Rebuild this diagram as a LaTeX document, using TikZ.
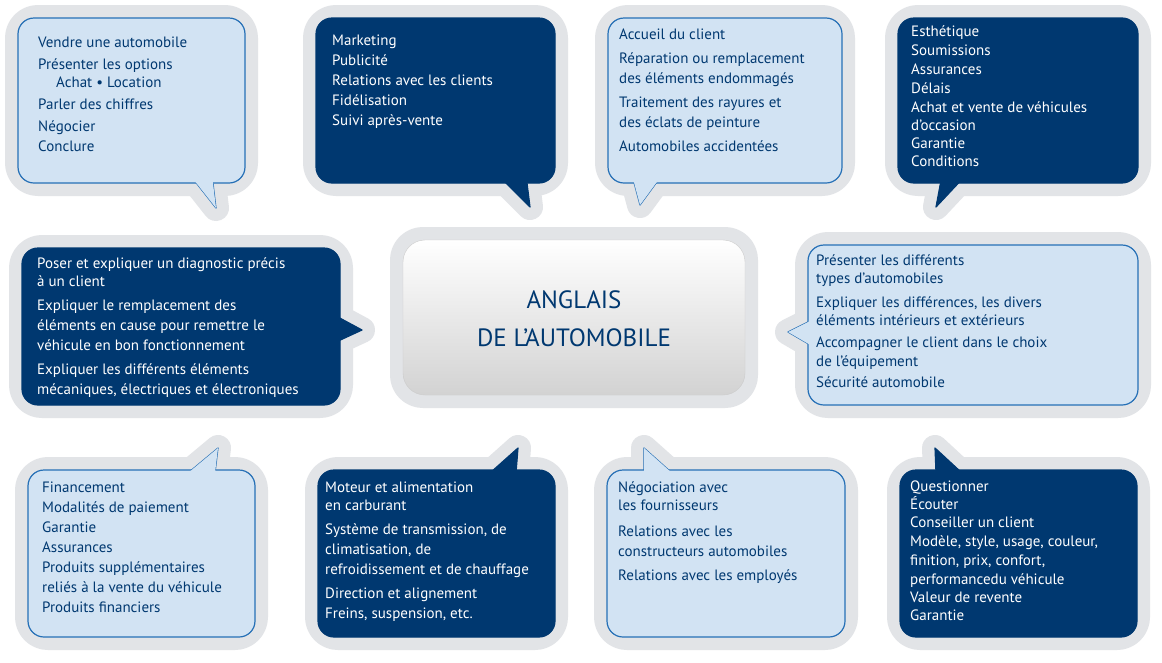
\documentclass[tikz,border=0pt]{standalone}
\usepackage{fontspec}
\setmainfont{PT Sans}
\definecolor{autonavy}{RGB}{0,56,112}
\definecolor{autolight}{RGB}{210,227,243}
\definecolor{autoedge}{RGB}{38,112,182}
\definecolor{autohalo}{RGB}{226,228,231}
\tikzset{
  halo/.style={draw=autohalo,fill=autohalo,line width=26pt,line join=round},
  lightbubble/.style={fill=autolight,draw=autoedge,line width=1.2pt},
  darkbubble/.style={fill=autonavy,draw=autonavy,line width=1.2pt},
  lighttext/.style={anchor=north west,inner sep=0pt,align=left,text=autonavy,font=\fontsize{15}{20}\selectfont},
  darktext/.style={lighttext,text=white}
}
% bubble: corner, corner, tail base, tip, tail base, style
\newcommand{\autobubble}[6]{%
  \draw[halo,rounded corners=20pt] #1 rectangle #2;
  \draw[halo] #3 -- #4 -- #5 -- cycle;
  \draw[#6,line join=round] #3 -- #4 -- #5;
  \draw[#6,rounded corners=16pt] #1 rectangle #2;
  \fill[#6,draw=none] #3 -- #4 -- #5 -- cycle;
}
\begin{document}
\begin{tikzpicture}[x=1pt,y=-1pt]
  \useasboundingbox[fill=white] (0,0) rectangle (1162,662);
  % top row
  \autobubble{(18,18)}{(245,183)}{(190,175)}{(216,208)}{(212,175)}{lightbubble}
  \autobubble{(316,18)}{(555,183)}{(498,175)}{(530,207)}{(526,175)}{darkbubble}
  \autobubble{(608,18)}{(842,183)}{(632,175)}{(640,205)}{(662,175)}{lightbubble}
  \autobubble{(898,18)}{(1138,183)}{(942,175)}{(936,207)}{(966,175)}{darkbubble}
  % middle row
  \autobubble{(22,248)}{(340,405)}{(336,316)}{(362,330)}{(336,342)}{darkbubble}
  \draw[halo,rounded corners=20pt] (403,240) rectangle (745,395);
  \shade[top color=white,bottom color=gray!35,draw=gray!40,rounded corners=22pt] (403,240) rectangle (745,395);
  \autobubble{(808,245)}{(1138,405)}{(812,320)}{(788,332)}{(812,346)}{lightbubble}
  % bottom row
  \autobubble{(28,470)}{(255,637)}{(188,473)}{(218,448)}{(215,473)}{lightbubble}
  \autobubble{(318,470)}{(555,637)}{(490,473)}{(518,448)}{(516,473)}{darkbubble}
  \autobubble{(607,470)}{(845,637)}{(644,473)}{(644,448)}{(672,473)}{lightbubble}
  \autobubble{(900,470)}{(1137,637)}{(936,473)}{(935,448)}{(962,473)}{darkbubble}

  \node[lighttext] (vente) at (38,37) {Vendre une automobile\\[2pt]Présenter les options\\[-2pt]\hspace{18pt}Achat \textbullet\ Location\\[2pt]Parler des chiffres\\[2pt]Négocier\\Conclure};
  \node[darktext] (marketing) at (332,35) {Marketing\\Publicité\\Relations avec les clients\\Fidélisation\\Suivi après-vente};
  \node[lighttext] (carrosserie) at (619,29) {Accueil du client\\[4pt]Réparation ou remplacement\\des éléments endommagés\\[4pt]Traitement des rayures et\\des éclats de peinture\\[4pt]Automobiles accidentées};
  \node[darktext,font=\fontsize{15}{19}\selectfont] (gestion) at (911,25) {Esthétique\\Soumissions\\Assurances\\Délais\\Achat et vente de véhicules\\[-1pt]d’occasion\\[-1pt]Garantie\\[-1pt]Conditions};
  \node[darktext] (diagnostic) at (37,257) {Poser et expliquer un diagnostic précis\\[-2pt]à un client\\[4pt]Expliquer le remplacement des\\éléments en cause pour remettre le\\véhicule en bon fonctionnement\\[4pt]Expliquer les différents éléments\\mécaniques, électriques et électroniques};
  \node[align=center,text=autonavy,font=\fontsize{25}{38}\selectfont] (centre) at (574,319) {ANGLAIS\\DE L’AUTOMOBILE};
  \node[lighttext] (types) at (816,254) {Présenter les différents\\[-2pt]types d’automobiles\\[4pt]Expliquer les différences, les divers\\[-2pt]éléments intérieurs et extérieurs\\[2pt]Accompagner le client dans le choix\\[-1pt]de l’équipement\\[1pt]Sécurité automobile};
  \node[lighttext] (finance) at (42,482) {Financement\\Modalités de paiement\\Garantie\\Assurances\\Produits supplémentaires\\reliés à la vente du véhicule\\Produits financiers};
  \node[darktext] (mecanique) at (325,482) {Moteur et alimentation\\[-2pt]en carburant\\[4pt]Système de transmission, de\\climatisation, de\\refroidissement et de chauffage\\[4pt]Direction et alignement\\Freins, suspension, etc.};
  \node[lighttext] (relations) at (618,481) {Négociation avec\\[-2pt]les fournisseurs\\[6pt]Relations avec les\\constructeurs automobiles\\[4pt]Relations avec les employés};
  \node[darktext,font=\fontsize{15}{19}\selectfont] (conseil) at (910,481) {Questionner\\[-1pt]Écouter\\[-1pt]Conseiller un client\\Modèle, style, usage, couleur,\\finition, prix, confort,\\performancedu véhicule\\[-1pt]Valeur de revente\\[-1pt]Garantie};
\end{tikzpicture}
\end{document}
